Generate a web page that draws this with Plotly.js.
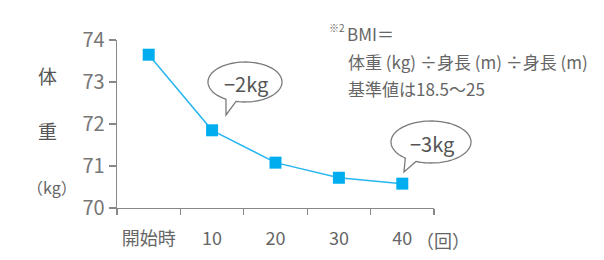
<!DOCTYPE html>
<html>
<head>
<meta charset="utf-8">
<script src="https://cdn.plot.ly/plotly-3.0.1.min.js"></script>
<style>html,body{margin:0;padding:0;background:#fff;}#chart{width:604px;height:260px;}</style>
</head>
<body>
<div id="chart"></div>
<script>
// Data
const categories = ["開始時", "10", "20", "30", "40"];
const weights = [73.65, 71.85, 71.08, 70.72, 70.58];
const yTicks = [70, 71, 72, 73, 74];

// Layout geometry (pixels)
const W = 604, H = 260;
const M = {l: 117, r: 170, t: 40, b: 52};
const PW = W - M.l - M.r, PH = H - M.t - M.b;
const px = x => (x - M.l) / PW;
const py = y => (H - M.b - y) / PH;

const FONT = '"Noto Sans CJK JP", "Noto Sans", sans-serif';

function bubblePath(cx, cy, rx, ry, a1, a2, tipX, tipY) {
  const pts = [];
  const start = a2, end = a1 + 360;
  const n = 80;
  for (let i = 0; i <= n; i++) {
    const a = (start + (end - start) * i / n) * Math.PI / 180;
    pts.push([cx + rx * Math.cos(a), cy + ry * Math.sin(a)]);
  }
  let d = 'M' + px(pts[0][0]) + ',' + py(pts[0][1]);
  for (let i = 1; i < pts.length; i++) d += ' L' + px(pts[i][0]) + ',' + py(pts[i][1]);
  d += ' L' + px(tipX) + ',' + py(tipY) + ' Z';
  return d;
}

const bubbleStyle = {type: 'path', xref: 'paper', yref: 'paper', fillcolor: '#ffffff',
  line: {color: '#7a7a7a', width: 1.3}, layer: 'above'};

const shapes = [
  Object.assign({path: bubblePath(245, 82, 37, 20, 104, 121, 226, 115)}, bubbleStyle),
  Object.assign({path: bubblePath(431, 142, 40, 21, 112, 130, 404, 172)}, bubbleStyle)
];

const txtColor = '#666666';
const annotations = [
  {text: '体', x: px(47), y: py(75), size: 19, color: '#555'},
  {text: '重', x: px(47), y: py(130), size: 19, color: '#555'},
  {text: '（kg）', x: px(52), y: py(187), size: 16, color: txtColor},
  {text: '−2kg', x: px(246), y: py(83), size: 20, color: '#555'},
  {text: '−3kg', x: px(432), y: py(143), size: 20, color: '#555'},
  {text: '（回）', x: px(443), y: py(240), size: 18, color: txtColor},
  {text: '※2', x: px(337), y: py(27), size: 10, color: txtColor},
  {text: 'BMI＝', x: px(345), y: py(34), size: 17, color: txtColor, xanchor: 'left'},
  {text: '体重 (kg) ÷身長 (m) ÷身長 (m)', x: px(346), y: py(61), size: 17, color: txtColor, xanchor: 'left'},
  {text: '基準値は18.5〜25', x: px(346), y: py(88), size: 17, color: txtColor, xanchor: 'left'}
].map(a => ({
  text: a.text, x: a.x, y: a.y, xref: 'paper', yref: 'paper',
  xanchor: a.xanchor || 'center', yanchor: 'middle', showarrow: false,
  font: {family: FONT, size: a.size, color: a.color}
}));

const trace = {
  x: categories, y: weights, type: 'scatter', mode: 'lines+markers',
  line: {color: '#29b6f0', width: 1.5},
  marker: {symbol: 'square', size: 12, color: '#00aeef'},
  cliponaxis: false, hoverinfo: 'skip'
};

const layout = {
  width: W, height: H, margin: M, showlegend: false,
  paper_bgcolor: '#fff', plot_bgcolor: '#fff',
  font: {family: FONT, color: txtColor},
  xaxis: {type: 'category', range: [-0.5, 4.5], tickson: 'boundaries',
    showgrid: false, zeroline: false, showline: true, linecolor: '#888', linewidth: 1.3,
    ticks: 'outside', ticklen: 6, tickcolor: '#888', tickwidth: 1.3,
    ticklabelstandoff: 14,
    tickfont: {family: FONT, size: 18, color: txtColor}},
  yaxis: {range: [70, 74], tickvals: yTicks, showgrid: false, zeroline: false,
    showline: true, linecolor: '#888', linewidth: 1.3,
    ticks: 'outside', ticklen: 7, tickcolor: '#888', tickwidth: 1.3,
    tickfont: {family: FONT, size: 20, color: '#777'}},
  shapes: shapes, annotations: annotations
};

Plotly.newPlot('chart', [trace], layout, {displayModeBar: false, staticPlot: true});
</script>
</body>
</html>
